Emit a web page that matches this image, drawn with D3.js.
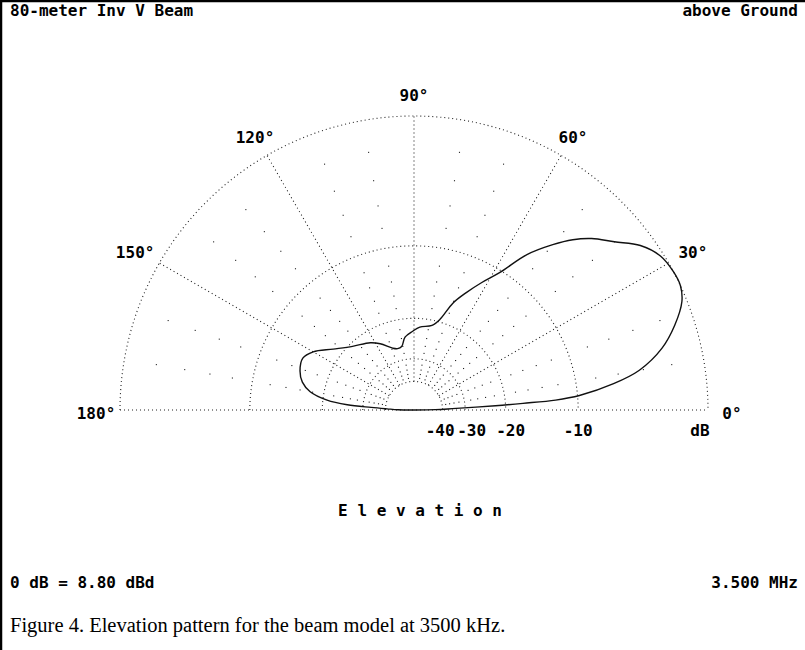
<!DOCTYPE html>
<html>
<head>
<meta charset="utf-8">
<script src="https://cdn.jsdelivr.net/npm/d3@7"></script>
<style>
  body { margin: 0; background: #fff; }
  svg { display: block; }
  .mono { font-family: "DejaVu Sans Mono", monospace; font-size: 16px; font-weight: bold; fill: #000; }
</style>
</head>
<body>
<svg width="805" height="650"></svg>
<script>
// elevation pattern (degrees, dB rel. max)
const elevDeg = [0, 1, 2, 3, 3.5, 4, 5, 7.5, 10, 14, 18, 22, 25, 28, 32, 36, 40, 44, 47, 50, 54, 58, 62, 66, 70, 74, 78, 86, 91, 97, 101, 105, 109, 117, 123, 134, 143, 150, 155, 161, 166, 170, 173.5, 175.5, 176.5, 177.5, 179, 180];
const gainDb = [-99, -45, -35, -22, -17, -12.5, -9.8, -6.5, -4.3, -2.4, -1.2, -0.3, 0, 0, -0.2, -0.85, -2, -3, -4, -5.3, -7.3, -10.2, -12.2, -14.2, -16.3, -19.5, -21, -21.7, -22.6, -23.8, -26, -26.3, -25.8, -23.6, -22.3, -20.6, -18.3, -15.9, -15, -15.3, -16.1, -17.6, -20.8, -25.4, -33, -41, -50, -99];

const ringDb = [0, -10, -20, -30, -40];
const spokeDeg = [30, 60, 90, 120, 150];
const angleLabels = [0, 30, 60, 90, 120, 150, 180];
const dbTickLabels = ["-40", "-30", "-20", "-10"];
const dotDeg = [10, 20, 40, 50, 70, 80, 100, 110, 130, 140, 160, 170];
const dotDb = [-2, -4, -6, -8, -12, -14, -16, -18, -22, -24, -26, -28, -32, -34, -36, -38];

const svg = d3.select("svg");
const cx = 414, cy = 410, R = 294;

// ARRL log scale: 0.89 per 2 dB
const rel = db => Math.pow(0.89, -db / 2);
const r = d3.scaleLinear().domain([0, 1]).range([0, R]);
const rad = db => r(rel(db));
const ang = d3.scaleLinear().domain([0, 180]).range([Math.PI / 2, -Math.PI / 2]);

const pt = (deg, rr) => [cx + rr * Math.sin(ang(deg)), cy - rr * Math.cos(ang(deg))];

// frame
svg.append("line").attr("x1", 1).attr("y1", 0).attr("x2", 1).attr("y2", 650)
  .attr("stroke", "#000").attr("stroke-width", 2.5);
svg.append("line").attr("x1", 0).attr("y1", 1).attr("x2", 805).attr("y2", 1)
  .attr("stroke", "#000").attr("stroke-width", 2.5);

const g = svg.append("g").attr("transform", `translate(${cx},${cy})`);
const dotted = sel => sel.attr("fill", "none").attr("stroke", "#222")
  .attr("stroke-width", 1.1).attr("stroke-dasharray", "1 3");

// rings
ringDb.forEach(db => {
  const p = d3.path();
  p.arc(0, 0, rad(db), Math.PI, 0);
  g.append("path").attr("d", p.toString()).call(dotted);
});

// baseline and spokes
g.append("line").attr("x1", -R).attr("y1", 0).attr("x2", R).attr("y2", 0).call(dotted);
spokeDeg.forEach(d => {
  const a = ang(d), r0 = rad(-40);
  g.append("line")
    .attr("x1", r0 * Math.sin(a)).attr("y1", -r0 * Math.cos(a))
    .attr("x2", R * Math.sin(a)).attr("y2", -R * Math.cos(a))
    .call(dotted);
});

// sparse dot grid
const dots = [];
dotDeg.forEach(d => dotDb.forEach(db => dots.push([d, db])));
g.selectAll("rect.dot").data(dots).enter().append("rect")
  .attr("class", "dot")
  .attr("x", d => rad(d[1]) * Math.sin(ang(d[0])) - 0.5)
  .attr("y", d => -rad(d[1]) * Math.cos(ang(d[0])) - 0.5)
  .attr("width", 1.1).attr("height", 1.1).attr("fill", "#222");

// pattern
const pattern = elevDeg.map((d, i) => [d, gainDb[i]]);
const line = d3.lineRadial()
  .angle(d => ang(d[0]))
  .radius(d => rad(d[1]))
  .curve(d3.curveCatmullRomClosed);
g.append("path").datum(pattern).attr("d", line)
  .attr("fill", "none").attr("stroke", "#111").attr("stroke-width", 1.4);

// angle labels
angleLabels.forEach(d => {
  const rr = (d === 30 || d === 150) ? 322 : 318;
  const [x, y] = pt(d, rr);
  svg.append("text").attr("class", "mono")
    .attr("x", x).attr("y", y + 3).attr("dy", "0.35em")
    .attr("text-anchor", "middle").text(d + "°");
});

// dB labels (the two inner ones are crowded, so they butt up against each other)
dbTickLabels.forEach((t, i) => {
  const x = cx + rad(+t);
  const anchor = i === 0 ? "end" : i === 1 ? "start" : "middle";
  const dx = i === 0 ? 12 : i === 1 ? -8 : i === 2 ? 5 : 0;
  svg.append("text").attr("class", "mono")
    .attr("x", x + dx).attr("y", 436)
    .attr("text-anchor", anchor).text(t);
});
svg.append("text").attr("class", "mono").attr("x", cx + R - 8).attr("y", 436)
  .attr("text-anchor", "middle").text("dB");

// texts
svg.append("text").attr("class", "mono").attr("x", 10).attr("y", 16).text("80-meter Inv V Beam");
svg.append("text").attr("class", "mono").attr("x", 798).attr("y", 16)
  .attr("text-anchor", "end").text("above Ground");
svg.append("text").attr("class", "mono").attr("x", 420).attr("y", 516)
  .attr("text-anchor", "middle").text("E l e v a t i o n");
svg.append("text").attr("class", "mono").attr("x", 10).attr("y", 588).text("0 dB = 8.80 dBd");
svg.append("text").attr("class", "mono").attr("x", 798).attr("y", 588)
  .attr("text-anchor", "end").text("3.500 MHz");
svg.append("text").attr("x", 10).attr("y", 632)
  .style("font-family", "'Liberation Serif', 'Times New Roman', serif").style("font-size", "20.5px")
  .text("Figure 4. Elevation pattern for the beam model at 3500 kHz.");
</script>
</body>
</html>
